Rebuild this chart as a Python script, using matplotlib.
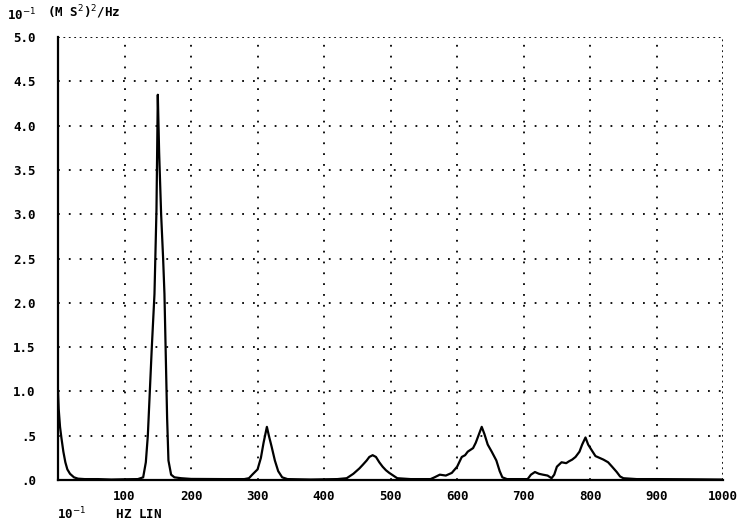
import matplotlib
matplotlib.use("Agg")
import matplotlib.pyplot as plt
import numpy as np

freq = [0, 1, 3, 5, 8, 11, 14, 18, 24, 30, 40, 60, 80, 100, 120, 128, 132, 135, 138, 141, 145, 148, 150, 152, 155, 158, 160, 162, 164, 166, 170, 175, 185, 200, 250, 280, 287,
        292, 296, 300, 305, 309, 314, 317, 321, 326, 331, 337, 345, 380, 420, 434, 444, 453, 458, 464, 468, 473, 478, 483, 488, 493, 498, 504, 510, 530, 560,
        566, 574, 583, 592, 600, 607, 612, 616, 620, 624, 628, 632, 637, 641, 646, 652, 659, 664, 668, 675, 690, 706, 711, 717, 723, 729, 736, 742,
        746, 750, 757, 764, 768, 773, 778, 784, 788, 793, 797, 802, 808, 814, 820, 827, 833, 840, 845, 850, 870, 900, 950, 1000]
psd = [1.0, 0.8, 0.6, 0.48, 0.32, 0.2, 0.12, 0.07, 0.03, 0.015, 0.01, 0.01, 0.005, 0.008, 0.01, 0.03, 0.2, 0.5, 1.0, 1.5, 2.1, 3.05, 4.35, 3.7, 3.0, 2.5, 2.1, 1.4, 0.7, 0.22, 0.06, 0.03, 0.02, 0.012, 0.01, 0.01, 0.02,
       0.06, 0.09, 0.12, 0.25, 0.42, 0.6, 0.5, 0.38, 0.22, 0.1, 0.03, 0.01, 0.005, 0.01, 0.02, 0.07, 0.13, 0.17, 0.22, 0.26, 0.28, 0.26, 0.2, 0.15, 0.11, 0.08, 0.05, 0.02, 0.01, 0.01,
       0.03, 0.06, 0.05, 0.08, 0.15, 0.26, 0.28, 0.32, 0.34, 0.36, 0.42, 0.5, 0.6, 0.52, 0.4, 0.32, 0.22, 0.1, 0.03, 0.01, 0.01, 0.01, 0.06, 0.09, 0.07, 0.06, 0.05, 0.02,
       0.06, 0.15, 0.2, 0.19, 0.21, 0.23, 0.26, 0.32, 0.4, 0.48, 0.4, 0.34, 0.27, 0.25, 0.23, 0.2, 0.15, 0.09, 0.04, 0.02, 0.01, 0.01, 0.008, 0.005]

xticks = [100, 200, 300, 400, 500, 600, 700, 800, 900, 1000]
xticklabels = ["100", "200", "300", "400", "500", "600", "700", "800", "900", "1000"]
yticks = [0.0, 0.5, 1.0, 1.5, 2.0, 2.5, 3.0, 3.5, 4.0, 4.5, 5.0]
yticklabels = [".0", ".5", "1.0", "1.5", "2.0", "2.5", "3.0", "3.5", "4.0", "4.5", "5.0"]

font = dict(family="DejaVu Sans Mono", weight="bold", size=9)

fig = plt.figure(figsize=(7.44, 5.24), dpi=100)
ax = fig.add_axes([0.078, 0.084, 0.894, 0.845])
ax.plot(freq, psd, color="black", lw=1.6)
ax.set_xlim(0, 1000)
ax.set_ylim(0, 5.0)

for x in xticks:
    ax.axvline(x, color="black", lw=1.3, ls=(0, (1, 5)) if x < 1000 else (0, (1, 2)), zorder=0)
for y in yticks[1:]:
    ax.axhline(y, color="black", lw=1.3, ls=(0, (1, 5)) if y < 5.0 else (0, (1, 2)), zorder=0)

ax.set_xticks(xticks)
ax.set_xticklabels(xticklabels, fontdict=font)
ax.set_yticks(yticks)
ax.set_yticklabels(yticklabels, fontdict=font)
ax.tick_params(axis="y", length=0, pad=16)
ax.tick_params(axis="x", length=0, pad=7)
for s in ["top", "right"]:
    ax.spines[s].set_visible(False)
ax.spines["left"].set_linewidth(1.6)
ax.spines["bottom"].set_linewidth(1.6)

fig.text(0.01, 0.972, "10$^{-1}$", fontsize=9, fontweight="bold", family="DejaVu Sans Mono", va="center")
fig.text(0.063, 0.976, "(M S$^{2}$)$^{2}$/Hz", fontsize=9, fontweight="bold", family="DejaVu Sans Mono", va="center")
fig.text(0.077, 0.02, "10$^{-1}$    HZ LIN", fontsize=9, fontweight="bold", family="DejaVu Sans Mono", va="center")

fig.savefig("out.png", dpi=100)
